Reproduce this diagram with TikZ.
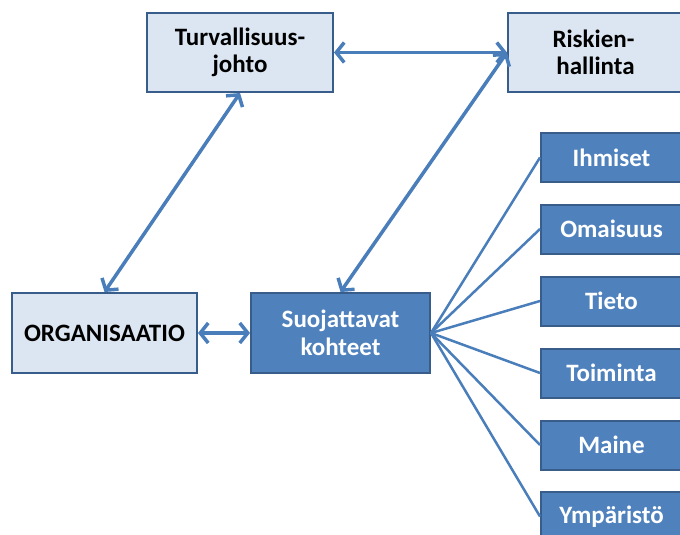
\documentclass[tikz,border=0pt]{standalone}
\usepackage{fontspec}
\setmainfont{Carlito}
\usetikzlibrary{arrows.meta}

\definecolor{paleblue}{HTML}{DCE6F2}
\definecolor{midblue}{HTML}{4F81BD}
\definecolor{edgeblue}{HTML}{385D8A}
\definecolor{linkblue}{HTML}{4A7EBB}

\tikzset{
  lightbox/.style={draw=edgeblue, line width=2pt, fill=paleblue, text=black,
    font=\fontsize{25}{27.5}\selectfont\bfseries, align=center, inner sep=0pt},
  darkbox/.style={draw=edgeblue, line width=2pt, fill=midblue, text=white,
    font=\fontsize{25}{27.5}\selectfont\bfseries, align=center, inner sep=0pt},
  itembox/.style={darkbox, minimum width=141pt, minimum height=49pt},
  twoway/.style={draw=linkblue, line width=3.5pt,
    {Straight Barb[length=8pt,width=20pt]}-{Straight Barb[length=8pt,width=20pt]}},
  fanline/.style={draw=linkblue, line width=2.5pt}
}

\begin{document}
\begin{tikzpicture}[x=1pt,y=-1pt]
  \useasboundingbox (0,0) rectangle (680,535);
  \clip (0,0) rectangle (680,535);

  % top row
  \node[lightbox, minimum width=186pt, minimum height=79pt] (turv) at (240,52.5)
    {Turvallisuus-\\johto};
  \node[lightbox, minimum width=175pt, minimum height=79pt, anchor=west] (risk) at (507,52.5)
    {\hspace*{-4pt}Riskien-\\hallinta};

  % middle row
  \node[lightbox, minimum width=185pt, minimum height=80pt] (org) at (104.5,333)
    {ORGANISAATIO};
  \node[darkbox, minimum width=179pt, minimum height=80pt] (suoj) at (340.5,333)
    {Suojattavat\\kohteet};

  % protected assets
  \node[itembox, anchor=west] (ihm) at (540,157.5) {Ihmiset};
  \node[itembox, anchor=west] (oma) at (540,229)   {Omaisuus};
  \node[itembox, anchor=west] (tie) at (540,301)   {Tieto};
  \node[itembox, anchor=west] (toi) at (540,373)   {Toiminta};
  \node[itembox, anchor=west] (mai) at (540,445)   {Maine};
  \node[itembox, anchor=west] (ymp) at (540,516.5) {Ympäristö};

  % two-way links
  \draw[twoway] (turv.south) -- (org.north);
  \draw[twoway] (turv.east) -- (risk.west);
  \draw[twoway] (risk.west) -- (suoj.north);
  \draw[twoway] (org.east) -- (suoj.west);

  % fan to the assets
  \foreach \t in {ihm,oma,tie,toi,mai,ymp}
    \draw[fanline] (suoj.east) -- (\t.west);
\end{tikzpicture}
\end{document}
